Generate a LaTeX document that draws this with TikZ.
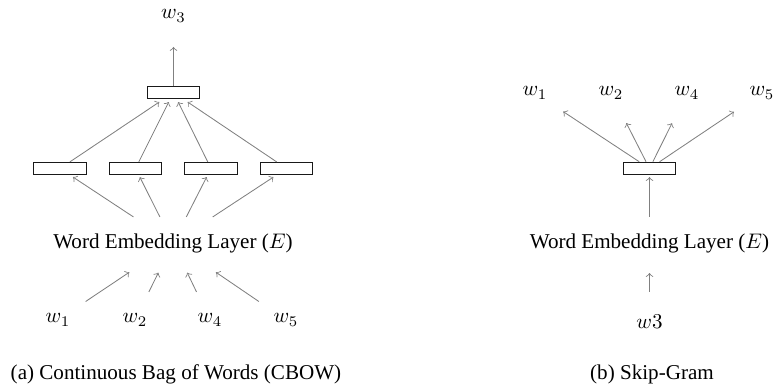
\documentclass[tikz,border=0pt]{standalone}
\usepackage[no-math]{fontspec}
\setmainfont{Liberation Serif}
\usetikzlibrary{calc}
\begin{document}
\begin{tikzpicture}[x=0.474pt,y=-0.474pt,
  unitbox/.style={draw=black!90, line width=0.6pt, minimum width=24.8pt, minimum height=5.8pt, inner sep=0pt},
  arr/.style={->, draw=black!50, line width=0.4pt},
  lbl/.style={inner sep=0pt, font=\fontsize{10}{12}\selectfont}]
\useasboundingbox (0,0) rectangle (773,390);

% ---------- CBOW ----------
\node[lbl] (wout) at (173.5,16) {$w_3$};
\node[unitbox] (top) at (173.5,92.5) {};
\node[unitbox] (h1) at (60,168.5) {};
\node[unitbox] (h2) at (135.5,168.5) {};
\node[unitbox] (h3) at (211,168.5) {};
\node[unitbox] (h4) at (286.5,168.5) {};
\node[lbl] (embA) at (173,243) {Word Embedding Layer ($E$)};
\node[lbl] (c1) at (58,320) {$w_1$};
\node[lbl] (c2) at (135,320) {$w_2$};
\node[lbl] (c4) at (210,320) {$w_4$};
\node[lbl] (c5) at (286,320) {$w_5$};
\node[lbl] (capA) at (176,374) {(a) Continuous Bag of Words (CBOW)};

\draw[arr] ($(top)!0.085!(wout)$) -- ($(top)!0.595!(wout)$);
\foreach \h in {h1,h2,h3,h4} {
  \draw[arr] ($(\h)!0.087!(top)$) -- ($(\h)!0.875!(top)$);
  \draw[arr] ($(embA)!0.35!(\h)$) -- ($(embA)!0.885!(\h)$);
}
\draw[arr] ($(c1)!0.24!(embA)$) -- ($(c1)!0.62!(embA)$);
\draw[arr] ($(c2)!0.365!(embA)$) -- ($(c2)!0.615!(embA)$);
\draw[arr] ($(c4)!0.365!(embA)$) -- ($(c4)!0.615!(embA)$);
\draw[arr] ($(c5)!0.24!(embA)$) -- ($(c5)!0.62!(embA)$);

% ---------- Skip-Gram ----------
\node[lbl] (o1) at (535,93) {$w_1$};
\node[lbl] (o2) at (611,93) {$w_2$};
\node[lbl] (o4) at (687,93) {$w_4$};
\node[lbl] (o5) at (762,93) {$w_5$};
\node[unitbox] (sg) at (649.5,168.5) {};
\node[lbl] (embB) at (649.5,243) {Word Embedding Layer ($E$)};
\node[lbl] (cin) at (649.5,322) {$w3$};
\node[lbl] (capB) at (652,374) {(b) Skip-Gram};

\draw[arr] ($(cin)!0.38!(embB)$) -- ($(cin)!0.62!(embB)$);
\draw[arr] ($(embB)!0.35!(sg)$) -- ($(embB)!0.885!(sg)$);
\foreach \o in {o1,o2,o4,o5} {
  \draw[arr] ($(sg)!0.09!(\o)$) -- ($(\o)!16pt!(sg)$);
}
\end{tikzpicture}
\end{document}
